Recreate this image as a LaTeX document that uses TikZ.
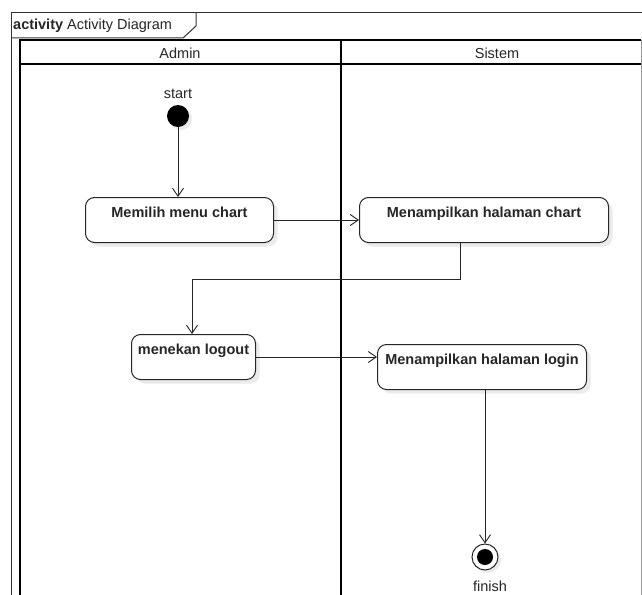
\documentclass[tikz,border=0pt]{standalone}
\usepackage{fontspec}
\setmainfont{Liberation Sans}
\usetikzlibrary{arrows.meta,shadows}
\begin{document}
\begin{tikzpicture}[x=1pt,y=-1pt,
  lane/.style={line width=2.6pt, draw=black},
  frameline/.style={line width=1pt, draw=black!80},
  arr/.style={draw=black!85, line width=1pt, -{Straight Barb[length=8pt,width=11pt,line width=0.9pt]}},
  conn/.style={draw=black!85, line width=1pt},
  act/.style={draw=black!85, line width=1pt, rounded corners=9pt, fill=white,
    anchor=north west, inner xsep=0pt, inner ysep=0pt,
    text height=20pt, text depth=25pt,
    font=\fontsize{14.5}{17}\selectfont\bfseries, text=black!85,
    drop shadow={shadow xshift=4pt, shadow yshift=-4pt, fill=black!8, opacity=1}},
  lbl/.style={font=\fontsize{14.5}{17}\selectfont, text=black!85, inner sep=0pt},
  ]
\useasboundingbox (0,0) rectangle (642,594);
\fill[white] (0,0) rectangle (642,594);
% frame
\draw[frameline] (11.5,600) -- (11.5,13) -- (642,13);
\draw[frameline] (11.5,38) -- (183,38) -- (196,26) -- (196,13);
\node[lbl, anchor=base west] (title) at (13,30) {\textbf{activity} Activity Diagram};
% swimlanes
\draw[lane] (20,600) -- (20,40) -- (641,40);
\draw[lane] (20,64) -- (641,64);
\draw[lane] (341,40) -- (341,600);
\draw[line width=0.8pt, draw=black!40] (641.5,40) -- (641.5,600);
\node[lbl, anchor=base] (admin) at (180,59) {Admin};
\node[lbl, anchor=base] (sistem) at (497,59) {Sistem};
% start
\node[lbl, anchor=base] (startlbl) at (178,98) {start};
\node[circle, fill=black, inner sep=0pt, minimum size=22pt,
  drop shadow={shadow xshift=3pt, shadow yshift=-3pt, fill=black!8, opacity=1}] (start) at (178,116) {};
% activities
\node[act, minimum width=188pt] (b1) at (85,197) {Memilih menu chart};
\node[act, minimum width=249pt] (b2) at (359,197) {Menampilkan halaman chart};
\node[act, minimum width=124pt] (b3) at (131,334) {menekan logout};
\node[act, minimum width=209pt] (b4) at (377,344) {Menampilkan halaman login};
% finish
\node[circle, draw=black!85, line width=1pt, fill=white, inner sep=0pt, minimum size=26pt,
  drop shadow={shadow xshift=3pt, shadow yshift=-3pt, fill=black!8, opacity=1}] (finish) at (485,557) {};
\node[circle, fill=black, inner sep=0pt, minimum size=16pt] (finishdot) at (finish) {};
\node[lbl, anchor=base] (finishlbl) at (490,591) {finish};
% connectors
\coordinate (j1) at (460,279);
\coordinate (j2) at (192,279);
\draw[arr] (start) -- (start |- b1.north);
\draw[arr] (b1.east) -- (b2.west);
\draw[arr] (b2.south -| j1) -- (j1) -- (j2) -- (j2 |- b3.north);
\draw[arr] (b3.east) -- (b3.east -| b4.west);
\draw[arr] (b4.south -| finish) -- (finish.north);
\end{tikzpicture}
\end{document}
